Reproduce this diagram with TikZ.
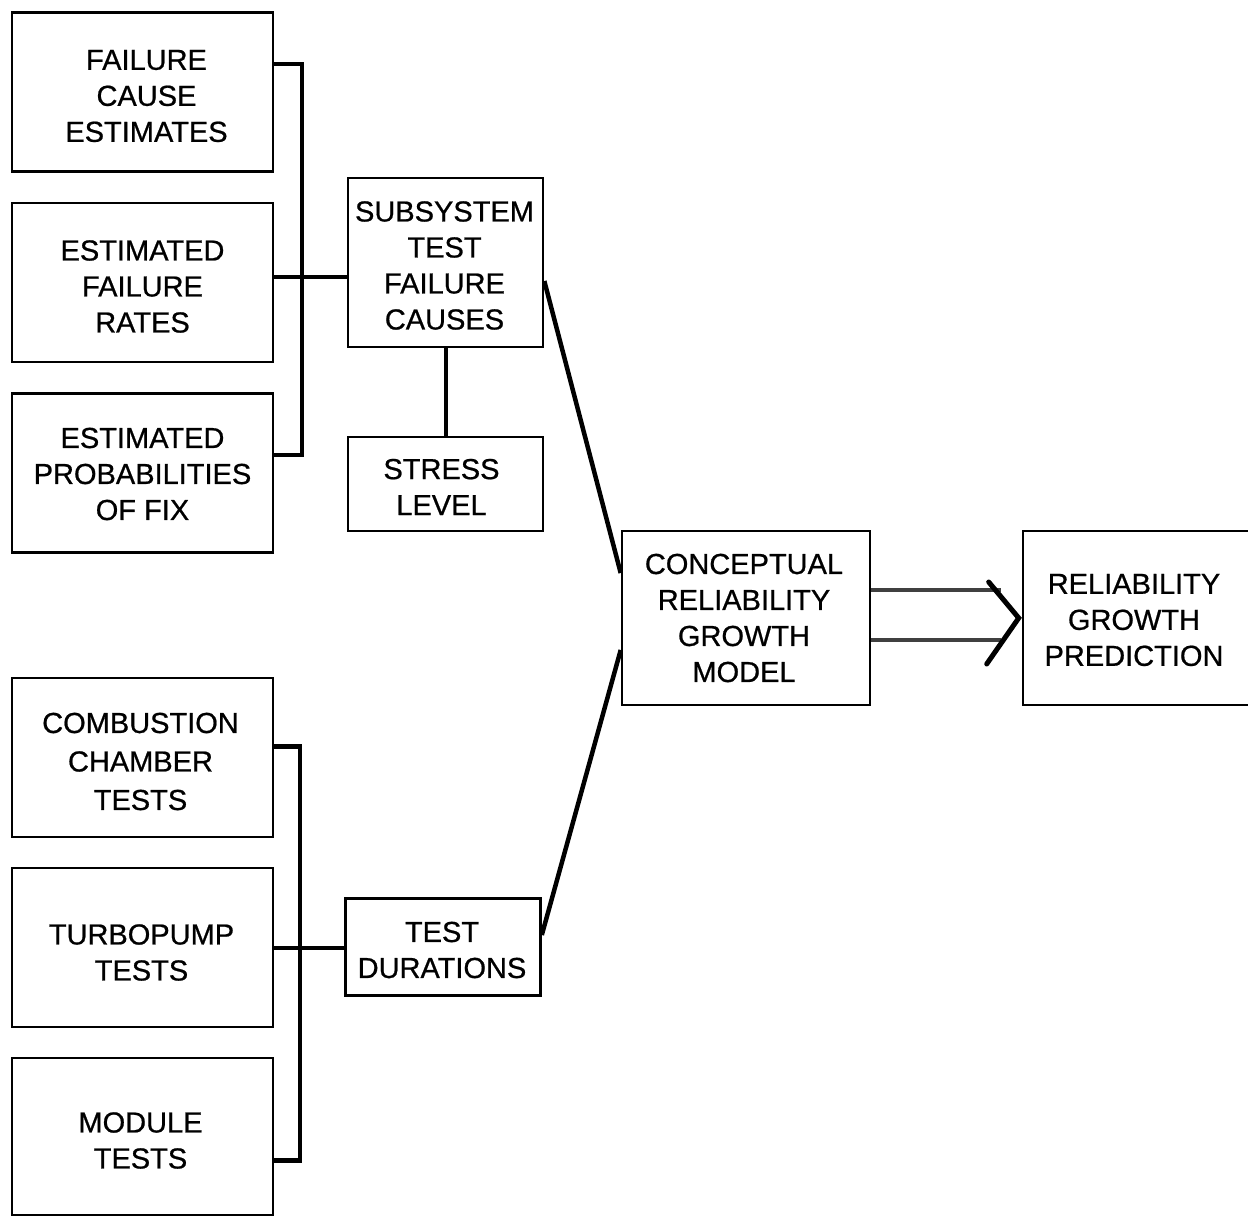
\documentclass[tikz,border=0pt]{standalone}
\usepackage{fontspec}
\setmainfont{Liberation Sans}
\newfontfamily\lettering{Liberation Sans}[FakeBold=0.7]
\begin{document}
\begin{tikzpicture}[x=1pt,y=-1pt,
  box/.style={draw=black, line width=2.6pt, inner sep=0pt},
  wide/.style={box, minimum width=261pt, minimum height=159pt},
  mid/.style={box, minimum width=195pt},
  txt/.style={inner sep=0pt, align=center, font=\lettering\fontsize{29}{36}\selectfont},
  link/.style={draw=black, line width=4.5pt},
  feed/.style={draw=black!75, line width=3.5pt},
  tip/.style={draw=black, line width=5pt, line cap=round}]
\useasboundingbox (0,0) rectangle (1248,1217);

% input estimates
\node[wide] (fce) at (142.5,92) {};
\node[wide] (efr) at (142.5,282.5) {};
\node[wide] (efp) at (142.5,473) {};

% test inputs
\node[wide] (cct) at (142.5,757.5) {};
\node[wide] (tpt) at (142.5,947.5) {};
\node[wide, minimum height=157pt] (mod) at (142.5,1136.5) {};

% intermediate quantities
\node[mid, minimum height=169pt] (sub) at (445.5,262.5) {};
\node[mid, minimum height=94pt] (str) at (445.5,484) {};
\node[mid, minimum height=97pt] (tdu) at (443,947) {};

% model and result
\node[box, minimum width=248pt, minimum height=174pt] (crg) at (746,618) {};
\node[box, minimum width=226pt, minimum height=174pt] (rgp) at (1136,618) {};

% box texts
\node[txt] (fcet) at ([shift={(4pt,-4pt)}]fce.center) {FAILURE\\CAUSE\\ESTIMATES};
\node[txt] (efrt) at ([shift={(0pt,-4pt)}]efr.center) {ESTIMATED\\FAILURE\\RATES};
\node[txt] (efpt) at ([shift={(0pt,-1pt)}]efp.center) {ESTIMATED\\PROBABILITIES\\OF FIX};
\node[txt, font=\lettering\fontsize{29}{38.5}\selectfont] (cctt) at ([shift={(-2pt,-4pt)}]cct.center) {COMBUSTION\\CHAMBER\\TESTS};
\node[txt] (tptt) at ([shift={(-1pt,-5pt)}]tpt.center) {TURBOPUMP\\TESTS};
\node[txt] (modt) at ([shift={(-2pt,-4pt)}]mod.center) {MODULE\\TESTS};
\node[txt] (subt) at ([shift={(-1pt,-3pt)}]sub.center) {SUBSYSTEM\\TEST\\FAILURE\\CAUSES};
\node[txt] (strt) at ([shift={(-4pt,-3pt)}]str.center) {STRESS\\LEVEL};
\node[txt] (tdut) at ([shift={(-1pt,-3pt)}]tdu.center) {TEST\\DURATIONS};
\node[txt] (crgt) at ([shift={(-2pt,0pt)}]crg.center) {CONCEPTUAL\\RELIABILITY\\GROWTH\\MODEL};
\node[txt] (rgpt) at ([shift={(-2pt,-2pt)}]rgp.center) {RELIABILITY\\GROWTH\\PREDICTION};

% upper bracket
\coordinate (j1) at (302,277);
\draw[link] ([yshift=-53pt]fce.north east) -| (j1) |- ([yshift=-63pt]efp.north east);
\draw[link] (efr.east |- j1) -- (sub.west |- j1);

% lower bracket
\coordinate (j2) at (300,948);
\draw[link] ([yshift=-70pt]cct.north east) -| (j2) |- ([yshift=-104pt]mod.north east);
\draw[link] (tpt.east |- j2) -- (tdu.west |- j2);

% stress level to failure causes
\draw[link, line width=4pt] (str.north) -- (sub.south);

% converging lines into the model
\draw[link] (sub.east |- 0,281) -- (crg.west |- 0,573);
\draw[link] (tdu.east |- 0,935) -- (crg.west |- 0,650);

% double-line arrow to the prediction
\coordinate (t) at ([xshift=-3pt]rgp.west);
\draw[feed] (crg.east |- 0,590) -- ([xshift=-18pt]t |- 0,590);
\draw[feed] (crg.east |- 0,640) -- ([xshift=-18pt]t |- 0,640);
\draw[tip] ([shift={(-30pt,36pt)}]t) -- (t) -- ([shift={(-32pt,-46pt)}]t);
\end{tikzpicture}
\end{document}
